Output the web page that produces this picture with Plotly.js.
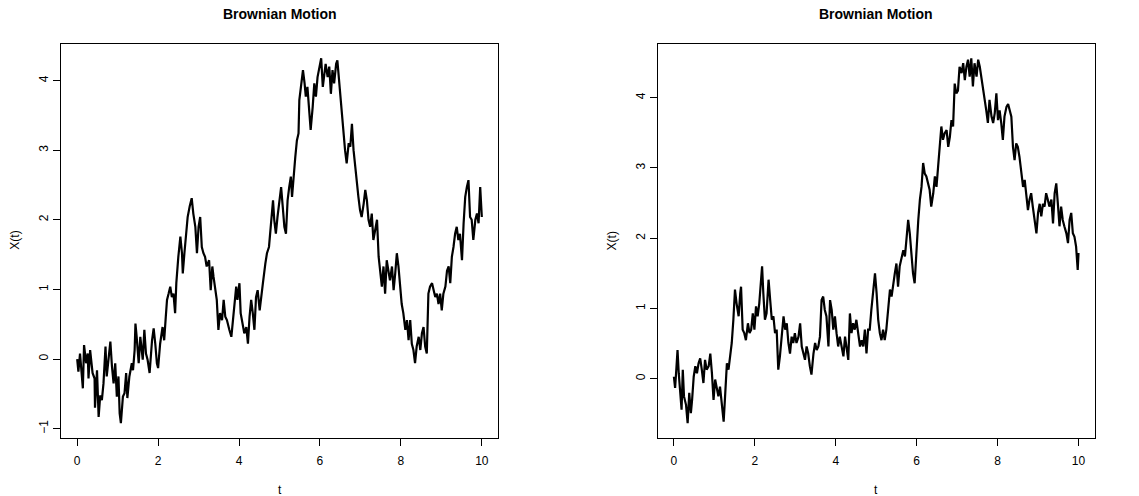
<!DOCTYPE html>
<html>
<head>
<meta charset="utf-8">
<script src="https://cdn.plot.ly/plotly-3.0.1.min.js"></script>
<style>
  html, body { margin: 0; padding: 0; background: #fff; }
  #chart { width: 1139px; height: 496px; }
</style>
</head>
<body>
<div id="chart"></div>
<script>
// Two simulated Brownian paths on t in [0, 10]
const tA = [0,0.03,0.07,0.10,0.14,0.17,0.22,0.26,0.28,0.32,
  0.38,0.43,0.44,0.49,0.53,0.57,0.61,0.65,0.70,0.73,
  0.77,0.82,0.86,0.90,0.94,0.98,1.02,1.05,1.08,1.13,
  1.17,1.21,1.24,1.29,1.35,1.38,1.42,1.44,1.47,1.52,
  1.56,1.60,1.62,1.66,1.70,1.74,1.79,1.85,1.89,1.93,
  1.97,2.00,2.05,2.11,2.15,2.19,2.22,2.26,2.30,2.34,
  2.38,2.42,2.45,2.50,2.55,2.59,2.61,2.65,2.69,2.73,
  2.78,2.83,2.87,2.92,2.96,3.00,3.04,3.08,3.12,3.16,
  3.20,3.26,3.30,3.34,3.37,3.41,3.45,3.49,3.53,3.58,
  3.62,3.66,3.70,3.76,3.81,3.85,3.89,3.93,3.96,4.01,
  4.04,4.08,4.13,4.18,4.22,4.26,4.30,4.34,4.38,4.42,
  4.46,4.51,4.55,4.59,4.65,4.69,4.74,4.77,4.81,4.84,
  4.87,4.91,4.95,5.00,5.04,5.08,5.12,5.16,5.20,5.24,
  5.28,5.31,5.35,5.39,5.43,5.47,5.49,5.54,5.58,5.62,
  5.65,5.69,5.73,5.77,5.82,5.86,5.90,5.94,5.99,6.03,
  6.07,6.10,6.14,6.19,6.23,6.27,6.31,6.35,6.40,6.43,
  6.47,6.50,6.54,6.58,6.62,6.66,6.71,6.75,6.79,6.83,
  6.87,6.91,6.95,6.99,7.03,7.08,7.12,7.16,7.20,7.24,
  7.28,7.32,7.36,7.41,7.45,7.49,7.53,7.57,7.61,7.65,
  7.69,7.73,7.78,7.82,7.86,7.90,7.94,7.98,8.02,8.06,
  8.11,8.15,8.19,8.23,8.27,8.31,8.35,8.39,8.44,8.48,
  8.52,8.56,8.60,8.64,8.68,8.72,8.77,8.81,8.85,8.89,
  8.93,8.97,9.01,9.05,9.10,9.14,9.18,9.22,9.26,9.30,
  9.34,9.38,9.42,9.46,9.51,9.55,9.59,9.63,9.67,9.71,
  9.75,9.79,9.84,9.88,9.92,9.96,10.00];
const xA = [0,-0.18,0.08,-0.15,-0.42,0.20,-0.06,0.08,-0.28,0.13,
  -0.20,-0.28,-0.70,-0.16,-0.83,-0.52,-0.59,-0.35,0.18,-0.25,
  0.00,0.25,-0.11,-0.35,-0.06,-0.54,-0.25,-0.78,-0.92,-0.54,
  -0.49,-0.20,-0.56,-0.25,-0.06,-0.16,0.13,0.51,0.32,-0.06,
  0.32,0.08,-0.01,0.42,0.08,-0.01,-0.20,0.27,0.44,0.22,
  -0.06,-0.13,0.22,0.46,0.27,0.61,0.85,0.94,1.04,0.89,
  0.94,0.66,1.09,1.47,1.76,1.52,1.23,1.52,1.80,2.04,
  2.19,2.31,2.09,1.90,1.52,1.90,2.04,1.61,1.52,1.47,
  1.33,1.42,0.99,1.33,1.18,0.99,0.85,0.42,0.66,0.56,
  0.85,0.61,0.56,0.42,0.32,0.56,0.85,1.04,0.85,1.09,
  0.66,0.51,0.37,0.46,0.22,0.61,0.85,0.66,0.42,0.89,
  0.99,0.70,0.94,1.09,1.37,1.52,1.61,1.80,2.14,2.28,
  2.00,1.80,2.04,2.33,2.47,2.19,1.90,1.80,2.28,2.47,
  2.62,2.33,2.67,2.90,3.14,3.24,3.72,4.00,4.15,3.96,
  3.77,3.91,3.62,3.29,3.62,3.96,3.77,4.05,4.20,4.32,
  3.91,4.10,4.24,4.05,4.20,3.81,4.15,3.96,4.24,4.29,
  4.00,3.91,3.57,3.24,3.00,2.81,3.10,3.05,3.38,3.00,
  2.76,2.47,2.33,2.14,2.04,2.23,2.43,2.28,2.00,1.90,
  2.09,1.71,1.85,2.00,1.47,1.27,1.04,1.33,0.94,1.42,
  1.27,1.13,1.33,0.99,1.23,1.52,1.33,0.99,0.79,0.66,
  0.42,0.56,0.27,0.56,0.22,0.13,-0.06,0.18,0.32,0.13,
  0.37,0.46,0.18,0.08,0.94,1.04,1.09,0.99,0.89,0.94,
  0.79,0.94,0.70,0.94,1.04,1.27,1.33,1.09,1.47,1.61,
  1.80,1.90,1.71,1.80,1.42,1.95,2.33,2.47,2.57,2.04,
  2.00,1.71,2.00,2.09,1.95,2.47,2.04];

const tB = [0,0.03,0.06,0.09,0.12,0.16,0.19,0.22,0.25,0.30,
  0.34,0.38,0.42,0.45,0.49,0.53,0.57,0.61,0.65,0.69,
  0.73,0.77,0.81,0.86,0.90,0.94,0.98,1.02,1.06,1.10,
  1.14,1.18,1.23,1.27,1.31,1.35,1.39,1.43,1.47,1.51,
  1.55,1.60,1.64,1.66,1.70,1.74,1.78,1.83,1.87,1.91,
  1.95,1.99,2.03,2.07,2.11,2.15,2.18,2.21,2.25,2.29,
  2.34,2.38,2.42,2.46,2.50,2.54,2.58,2.62,2.66,2.71,
  2.75,2.79,2.83,2.87,2.91,2.95,2.99,3.03,3.08,3.12,
  3.16,3.20,3.24,3.28,3.32,3.36,3.40,3.45,3.49,3.53,
  3.57,3.61,3.65,3.69,3.73,3.77,3.82,3.86,3.90,3.94,
  3.98,4.02,4.06,4.10,4.14,4.19,4.23,4.27,4.31,4.35,
  4.39,4.43,4.47,4.51,4.56,4.60,4.64,4.68,4.72,4.76,
  4.80,4.84,4.88,4.93,4.97,5.01,5.05,5.09,5.13,5.17,
  5.21,5.25,5.30,5.34,5.38,5.42,5.46,5.50,5.54,5.58,
  5.62,5.67,5.71,5.75,5.79,5.83,5.87,5.91,5.95,5.99,
  6.04,6.08,6.12,6.16,6.20,6.24,6.28,6.32,6.36,6.41,
  6.45,6.49,6.53,6.57,6.61,6.65,6.69,6.74,6.78,6.82,
  6.86,6.90,6.94,6.98,7.02,7.06,7.11,7.15,7.19,7.23,
  7.27,7.31,7.35,7.39,7.43,7.48,7.52,7.56,7.60,7.64,
  7.68,7.72,7.76,7.80,7.85,7.89,7.93,7.97,8.01,8.05,
  8.09,8.13,8.17,8.22,8.26,8.30,8.34,8.38,8.42,8.46,
  8.50,8.54,8.59,8.63,8.67,8.71,8.75,8.79,8.83,8.87,
  8.91,8.96,9.00,9.04,9.08,9.12,9.16,9.20,9.24,9.28,
  9.33,9.37,9.41,9.45,9.49,9.53,9.57,9.61,9.65,9.70,
  9.74,9.78,9.82,9.86,9.90,9.94,9.98,10.00];
const xB = [0.03,-0.13,0.13,0.41,0.08,-0.16,-0.44,0.13,-0.25,-0.37,
  -0.63,-0.20,-0.49,-0.30,0.03,0.18,0.08,0.22,0.29,0.13,
  -0.06,0.27,0.13,0.18,0.36,0.08,-0.30,-0.01,-0.16,-0.25,
  -0.11,-0.35,-0.61,-0.20,0.22,0.13,0.32,0.51,0.84,1.27,
  1.07,0.89,1.22,1.31,0.70,0.65,0.55,0.79,0.65,0.70,
  0.93,0.70,1.03,0.89,1.07,1.31,1.60,1.22,0.84,0.93,
  1.41,1.12,0.84,0.89,0.65,0.70,0.13,0.32,0.55,0.89,
  0.70,0.79,0.51,0.36,0.60,0.51,0.65,0.51,0.60,0.79,
  0.46,0.36,0.27,0.46,0.36,0.18,0.06,0.36,0.51,0.41,
  0.46,0.60,1.12,1.17,0.98,0.89,0.46,1.12,0.98,0.70,
  0.89,0.65,0.46,0.60,0.46,0.32,0.60,0.46,0.27,0.93,
  0.65,0.79,0.70,0.84,0.60,0.46,0.55,0.46,0.70,0.36,
  0.70,0.70,0.98,1.27,1.50,1.22,0.84,0.65,0.55,0.70,
  0.55,0.70,1.03,1.27,1.17,1.36,1.50,1.64,1.31,1.60,
  1.69,1.83,1.74,1.98,2.26,2.07,1.79,1.50,1.36,1.79,
  2.26,2.55,2.73,3.07,2.92,2.88,2.78,2.69,2.45,2.64,
  2.88,2.73,3.02,3.26,3.59,3.40,3.49,3.54,3.30,3.44,
  3.68,3.59,4.20,4.06,4.10,4.44,4.35,4.49,4.25,4.44,
  4.54,4.30,4.56,4.16,4.49,4.30,4.54,4.44,4.30,4.16,
  3.97,3.82,3.64,3.97,3.73,3.64,3.78,4.06,3.68,3.82,
  3.64,3.40,3.73,3.87,3.91,3.82,3.73,3.30,3.11,3.35,
  3.30,3.16,2.88,2.73,2.83,2.55,2.40,2.55,2.64,2.45,
  2.26,2.07,2.36,2.49,2.31,2.49,2.45,2.64,2.55,2.45,
  2.55,2.21,2.64,2.78,2.49,2.17,2.45,2.26,2.17,2.07,
  1.93,2.26,2.36,2.07,2.02,1.88,1.55,1.79];

const xTicks = [0, 2, 4, 6, 8, 10];
const yTicksA = [-1, 0, 1, 2, 3, 4];
const yTicksB = [0, 1, 2, 3, 4];
const panelTitle = 'Brownian Motion';
const xLabel = 't';
const yLabel = 'X(t)';

const W = 1139, H = 496;
const px = v => v / W;          // pixel -> paper (x)
const py = v => 1 - v / H;      // pixel -> paper (y)

// plot-region boxes in pixels
const boxA = {l: 61, r: 498, t: 43.7, b: 437.7};
const boxB = {l: 657.7, r: 1094.7, t: 43.7, b: 437.7};

// R-style 4% padding around the data range
function padded(vals) {
  const lo = Math.min(...vals), hi = Math.max(...vals), d = (hi - lo) * 0.04;
  return [lo - d, hi + d];
}

const font = {family: '"Liberation Sans", Arial, Helvetica, sans-serif', color: '#000'};

function xaxisFor(box, anchor, vals) {
  return {
    domain: [px(box.l), px(box.r)], anchor: anchor,
    range: padded(vals),
    tickmode: 'array', tickvals: xTicks, ticktext: xTicks.map(String),
    ticks: 'outside', ticklen: 7, tickwidth: 1, tickcolor: '#000',
    ticklabelstandoff: 5,
    showline: true, mirror: true, linecolor: '#000', linewidth: 1,
    showgrid: false, zeroline: false,
    tickfont: Object.assign({size: 12}, font)
  };
}
function yaxisFor(box, anchor, vals, ticks) {
  return {
    domain: [py(box.b), py(box.t)], anchor: anchor,
    range: padded(vals),
    tickmode: 'array', tickvals: ticks, ticktext: ticks.map(v => v < 0 ? '\u2212' + Math.abs(v) : String(v)),
    tickangle: -90,
    ticks: 'outside', ticklen: 7, tickwidth: 1, tickcolor: '#000',
    showline: true, mirror: true, linecolor: '#000', linewidth: 1,
    showgrid: false, zeroline: false,
    tickfont: Object.assign({size: 12}, font)
  };
}

const pathLine = {color: '#000', width: 2.2};
const traces = [
  {x: tA, y: xA, xaxis: 'x', yaxis: 'y', type: 'scatter', mode: 'lines',
   line: pathLine, hoverinfo: 'skip'},
  {x: tB, y: xB, xaxis: 'x2', yaxis: 'y2', type: 'scatter', mode: 'lines',
   line: pathLine, hoverinfo: 'skip'}
];

function labels(box) {
  const cx = px((box.l + box.r) / 2);
  return [
    {text: '<b>' + panelTitle + '</b>', x: cx, y: py(14.5), xref: 'paper', yref: 'paper',
     xanchor: 'center', yanchor: 'middle', showarrow: false, font: Object.assign({size: 14}, font)},
    {text: xLabel, x: cx, y: py(490), xref: 'paper', yref: 'paper',
     xanchor: 'center', yanchor: 'middle', showarrow: false, font: Object.assign({size: 12}, font)},
    {text: yLabel, x: px(box.l - 46), y: py((box.t + box.b) / 2), xref: 'paper', yref: 'paper',
     xanchor: 'center', yanchor: 'middle', textangle: -90, showarrow: false,
     font: Object.assign({size: 12}, font)}
  ];
}

const layout = {
  width: W, height: H,
  margin: {l: 0, r: 0, t: 0, b: 0},
  paper_bgcolor: '#fff', plot_bgcolor: '#fff',
  showlegend: false,
  xaxis: xaxisFor(boxA, 'y', tA),
  yaxis: yaxisFor(boxA, 'x', xA, yTicksA),
  xaxis2: xaxisFor(boxB, 'y2', tB),
  yaxis2: yaxisFor(boxB, 'x2', xB, yTicksB),
  annotations: labels(boxA).concat(labels(boxB))
};

Plotly.newPlot('chart', traces, layout, {staticPlot: true, displayModeBar: false});
</script>
</body>
</html>
